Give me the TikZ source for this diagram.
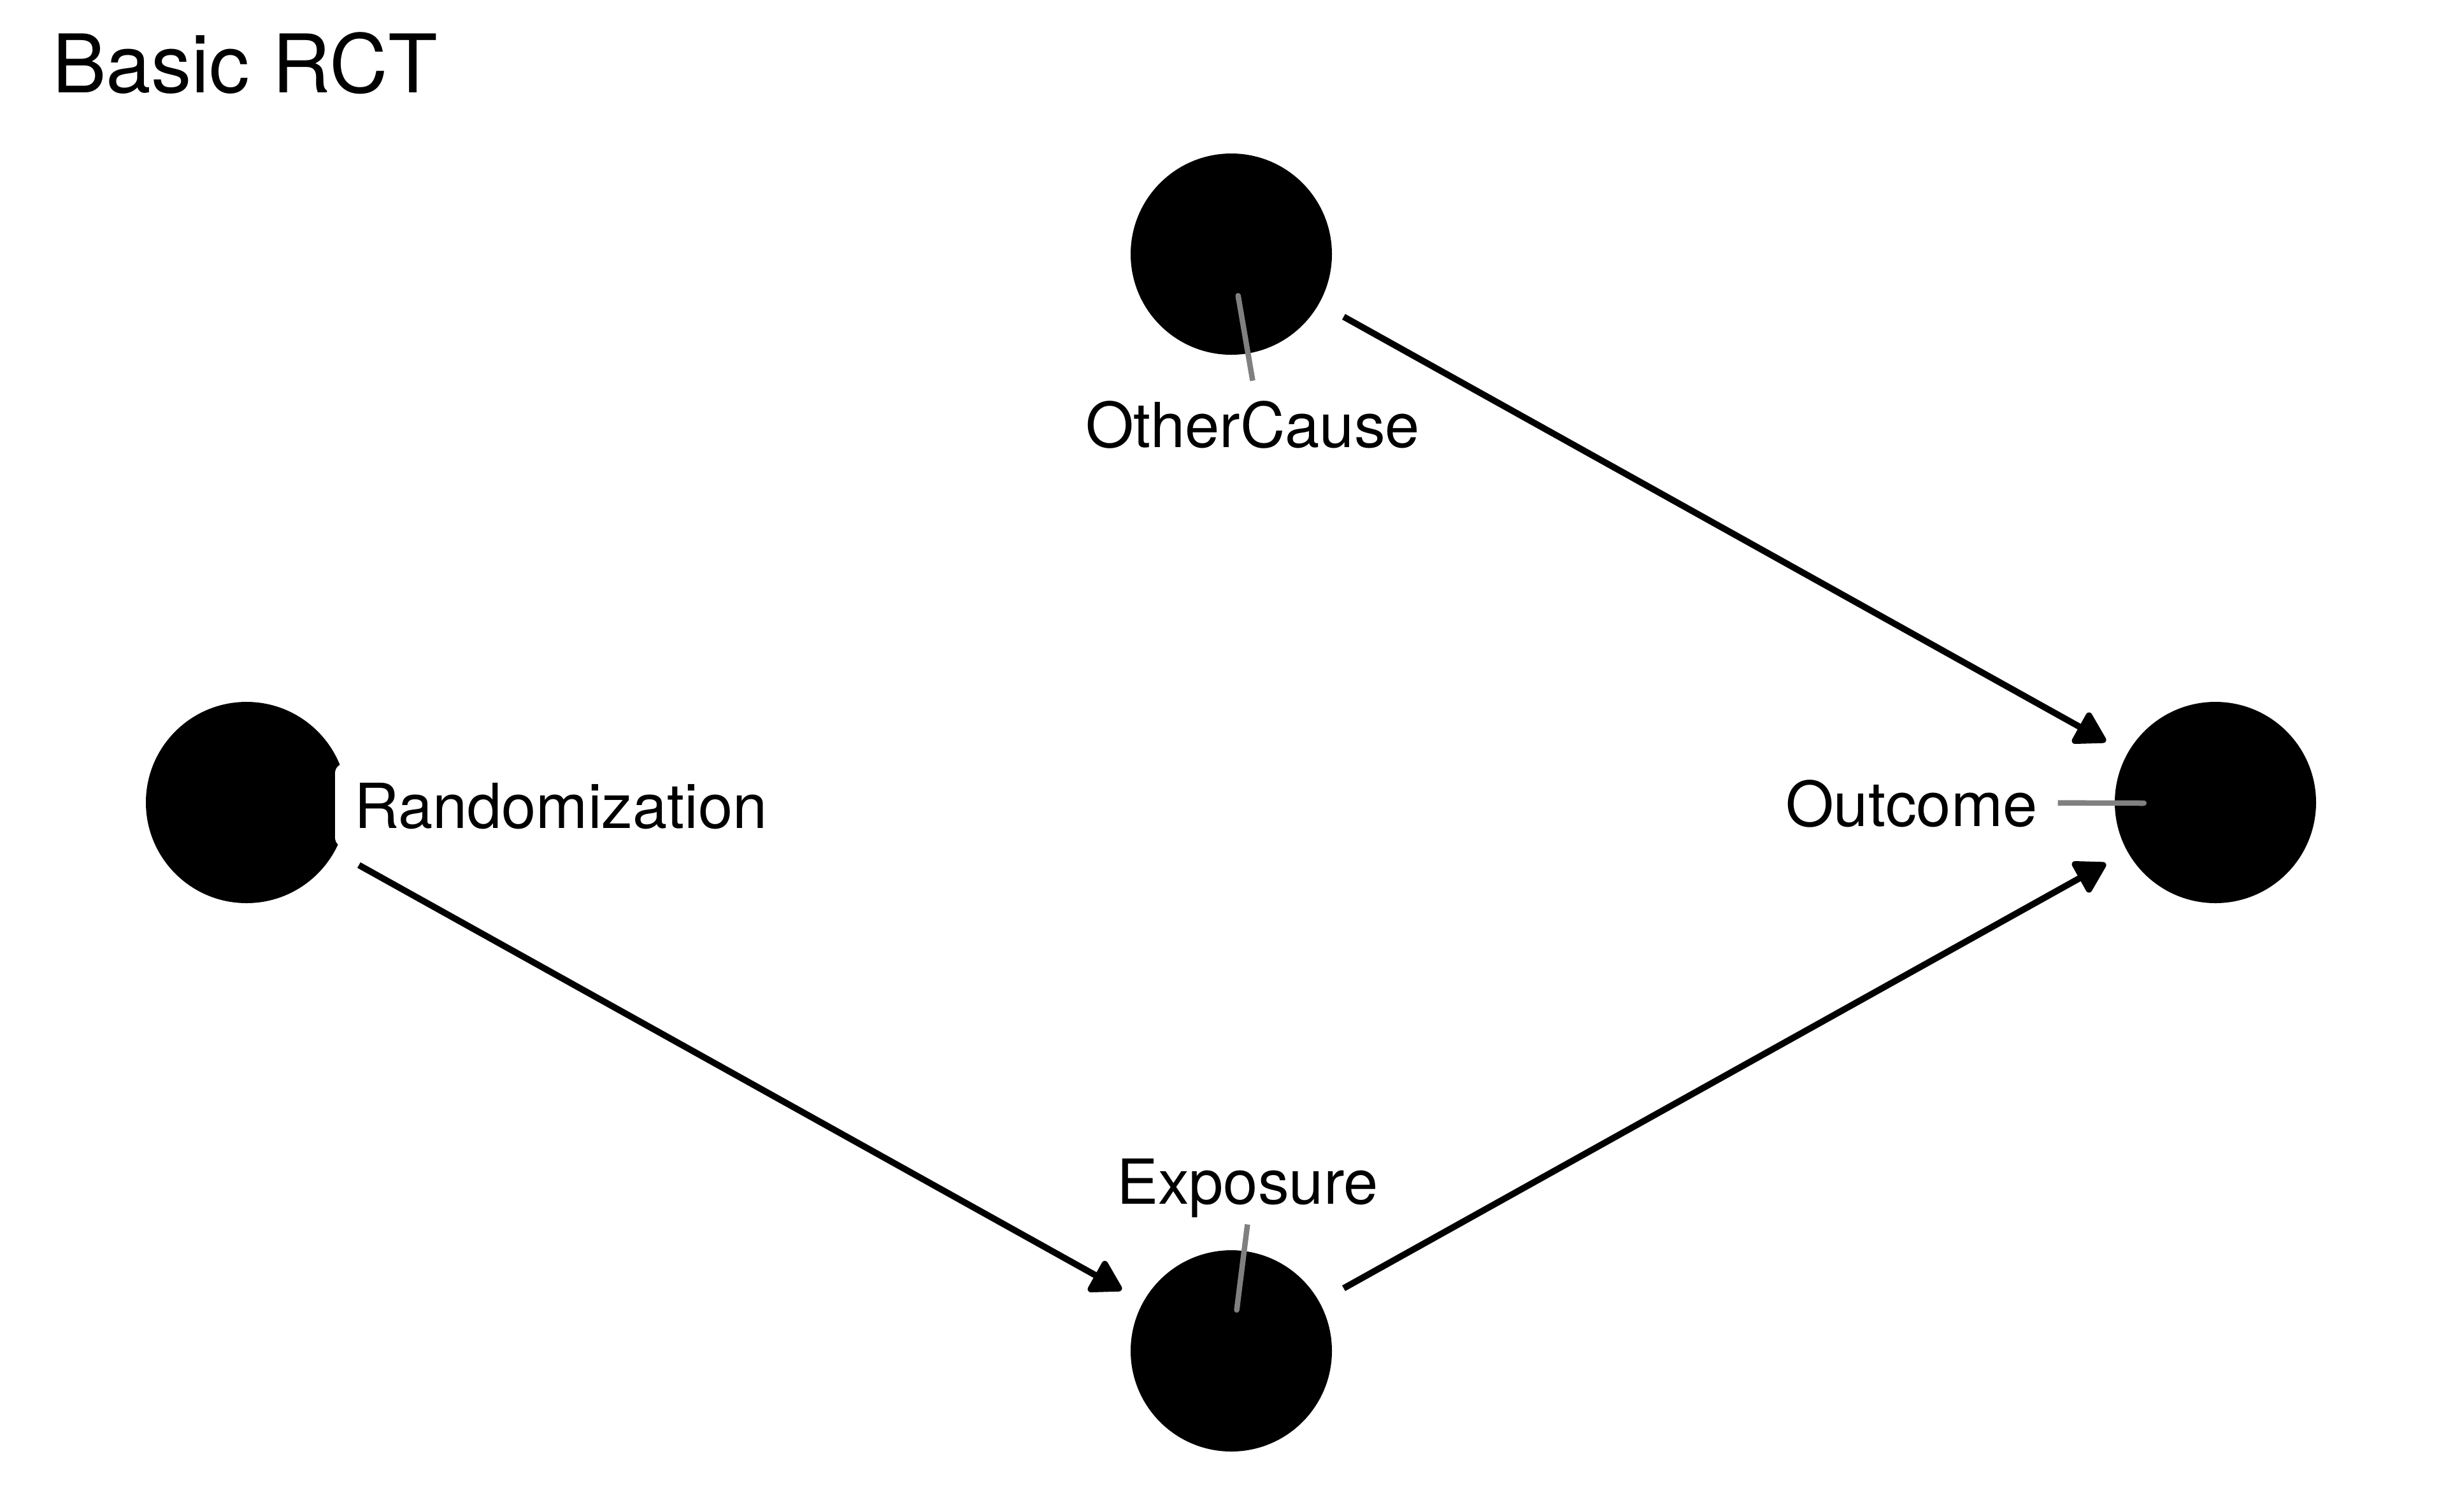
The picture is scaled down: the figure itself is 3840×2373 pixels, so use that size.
\documentclass[tikz,border=0pt]{standalone}
\usepackage{fontspec}
\setmainfont{TeX Gyre Heros}
\usetikzlibrary{arrows.meta}
\begin{document}
\begin{tikzpicture}[x=0.1pt,y=-0.1pt,
  dagnode/.style={circle,fill=black,draw=none,minimum size=31.6pt,inner sep=0pt,outer sep=0pt},
  edge/.style={line width=1pt,black,-{Triangle[length=5.3pt,width=6pt,round]},shorten <=4.4pt,shorten >=3.9pt},
  seg/.style={line width=0.85pt,black!50,-{Round Cap[]}},
  lab/.style={fill=white,rounded corners=1.5pt,inner sep=3pt,text depth=0pt,anchor=base west,
    font=\fontsize{9.75pt}{11pt}\selectfont},
  ttl/.style={inner sep=0pt,anchor=base west,font=\fontsize{12.7pt}{15pt}\selectfont}]
\useasboundingbox[fill=white] (0,0) rectangle (3840,2373);
% nodes
\node[dagnode] (rand) at (387,1260) {};
\node[dagnode] (oc) at (1933,399) {};
\node[dagnode] (ex) at (1933,2121) {};
\node[dagnode] (out) at (3478,1260) {};
% edges
\draw[edge] (rand) -- (ex);
\draw[edge] (oc) -- (out);
\draw[edge] (ex) -- (out);
% label points
\coordinate (ocPt) at (1943,460);
\coordinate (exPt) at (1941,2061);
\coordinate (outPt) at (3370,1261);
% labels
\node[lab] (randLab) at (524,1300) {Randomization};
\node[lab] (ocLab) at (1672,702.5) {OtherCause};
\node[lab] (exLab) at (1721,1890.5) {Exposure};
\node[lab] (outLab) at (2771,1297) {Outcome};
% label segments
\draw[seg] (ocLab.north) -- (ocPt);
\draw[seg] (exLab.south) -- (exPt);
\draw[seg] (outLab.east) -- (outPt);
% title
\node[ttl] (title) at (80,145) {Basic RCT};
\end{tikzpicture}
\end{document}
